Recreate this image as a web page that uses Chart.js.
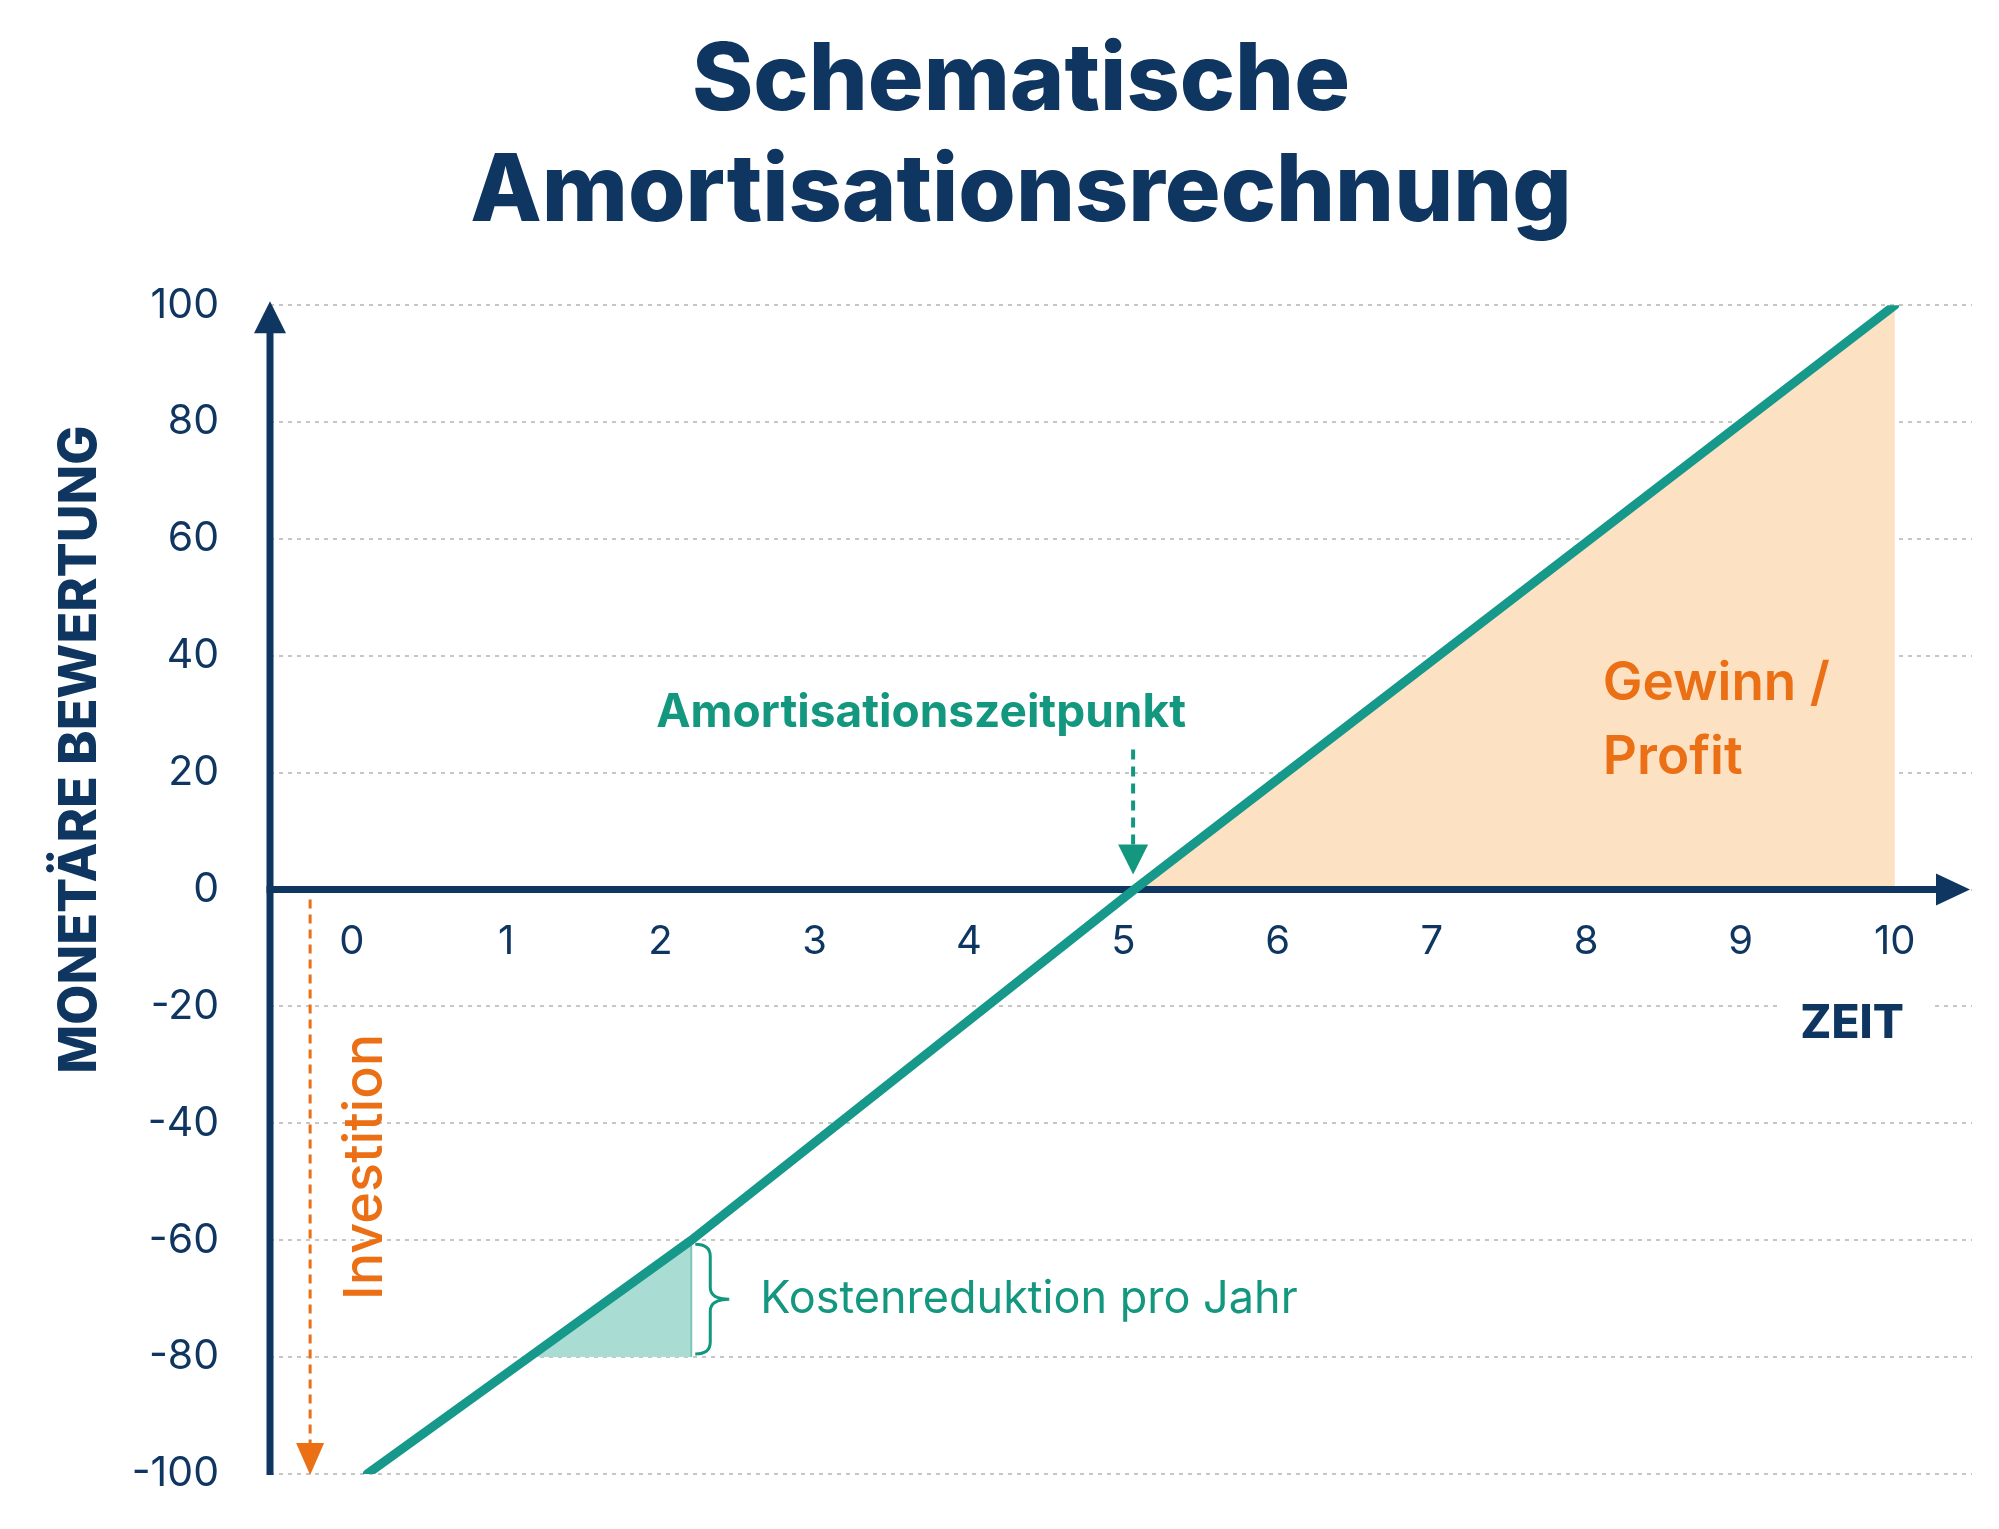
<!DOCTYPE html>
<html><head><meta charset="utf-8">
<script src="https://cdn.jsdelivr.net/npm/chart.js@4.4.1/dist/chart.umd.min.js"></script>
<style>html,body{margin:0;padding:0;background:#fff}#wrap{width:1999px;height:1529px}</style>
</head><body><div id="wrap"><canvas id="c" width="1999" height="1529"></canvas></div>
<script>
// ---- data ----
const titleLines = ['Schematische', 'Amortisationsrechnung'];
const yAxisTitle = 'MONETÄRE BEWERTUNG';
const xAxisTitle = 'ZEIT';
const xTicks = [0, 1, 2, 3, 4, 5, 6, 7, 8, 9, 10];
const yTicks = [-100, -80, -60, -40, -20, 0, 20, 40, 60, 80, 100];
const yTickLabels = ['-100', '-80', '-60', '-40', '-20', '0', '20', '40', '60', '80', '100'];
const years = [0.1, 1.15, 2.2, 5.07, 10];
const cumulative = [-100, -80, -60, 0, 100];
const breakEvenYear = 5.07;
const profitYears = [5.07, 10];
const profitValues = [0, 100];
const stepYears = [1.15, 2.2];
const stepValues = [-80, -60];
const stepEdgeYears = [2.2, 2.2];
const stepEdgeValues = [-80, -60];
const investmentValue = -100;
const txtBreakEven = 'Amortisationszeitpunkt';
const txtProfit = ['Gewinn /', 'Profit'];
const txtInvest = 'Investition';
const txtStep = 'Kostenreduktion pro Jahr';

// ---- styles ----
const NAVY = '#0f3661';
const TEAL = '#16998a';
const TEAL_TXT = '#14977f';
const ORANGE = '#eb6f15';
const PEACH = '#fde1c3';
const MINT = '#a9dcd3';
const FONT = 'Inter, "Open Sans", sans-serif';

const pts = (xs, ys) => xs.map((v, i) => ({x: v, y: ys[i]}));

function dashedArrow(ctx, x, yStart, yTip, color, lw, dash, headW, headH) {
  ctx.save();
  ctx.strokeStyle = color; ctx.fillStyle = color; ctx.lineWidth = lw;
  ctx.setLineDash(dash);
  ctx.beginPath(); ctx.moveTo(x, yStart); ctx.lineTo(x, yTip - headH + 2); ctx.stroke();
  ctx.setLineDash([]);
  ctx.beginPath(); ctx.moveTo(x, yTip); ctx.lineTo(x - headW / 2, yTip - headH); ctx.lineTo(x + headW / 2, yTip - headH); ctx.closePath(); ctx.fill();
  ctx.restore();
}

const annot = {
  id: 'annot',
  beforeDatasetsDraw(chart) {
    const {ctx, chartArea: a, scales: {x, y}} = chart;
    const y0 = y.getPixelForValue(0);
    ctx.save();
    ctx.fillStyle = NAVY; ctx.strokeStyle = NAVY; ctx.lineWidth = 7;
    ctx.beginPath(); ctx.moveTo(a.left, y.getPixelForValue(investmentValue) + 1); ctx.lineTo(a.left, a.top + 20); ctx.stroke();
    ctx.beginPath(); ctx.moveTo(a.left, a.top - 4); ctx.lineTo(a.left - 16, a.top + 28); ctx.lineTo(a.left + 16, a.top + 28); ctx.closePath(); ctx.fill();
    ctx.beginPath(); ctx.moveTo(a.left - 3.5, y0); ctx.lineTo(a.right - 30, y0); ctx.stroke();
    ctx.beginPath(); ctx.moveTo(a.right - 2, y0); ctx.lineTo(a.right - 36, y0 - 16); ctx.lineTo(a.right - 36, y0 + 16); ctx.closePath(); ctx.fill();
    ctx.restore();
  },
  afterDatasetsDraw(chart) {
    const {ctx, chartArea: a, scales: {x, y}} = chart;
    const y0 = y.getPixelForValue(0);
    const yMin = y.getPixelForValue(investmentValue);
    ctx.save();

    // Investition arrow + label
    const ix = x.getPixelForValue(-0.27);
    dashedArrow(ctx, ix, y0 + 10, yMin + 1, ORANGE, 3, [9, 6], 28, 32);
    ctx.save();
    ctx.translate(ix + 72, yMin - 174);
    ctx.rotate(-Math.PI / 2);
    ctx.fillStyle = ORANGE; ctx.font = '500 54px ' + FONT;
    ctx.textAlign = 'left'; ctx.textBaseline = 'alphabetic';
    ctx.fillText(txtInvest, 0, 0);
    ctx.restore();

    // Break-even arrow + label
    const bx = x.getPixelForValue(breakEvenYear) - 1;
    dashedArrow(ctx, bx, y0 - 140, y0 - 15, TEAL_TXT, 4, [10, 7], 30, 30);
    ctx.fillStyle = TEAL_TXT; ctx.font = '700 46px ' + FONT;
    ctx.textAlign = 'center'; ctx.textBaseline = 'alphabetic';
    ctx.fillText(txtBreakEven, bx - 212, y0 - 163);

    // Brace + cost reduction label
    const ex = x.getPixelForValue(stepEdgeYears[0]);
    const top = y.getPixelForValue(stepValues[1]) + 4;
    const bot = y.getPixelForValue(stepValues[0]) - 3;
    const ym = (top + bot) / 2;
    const b0 = ex + 4, b1 = ex + 19, tip = ex + 38, r = 12;
    ctx.strokeStyle = TEAL_TXT; ctx.lineWidth = 3;
    ctx.beginPath();
    ctx.moveTo(b0, top);
    ctx.quadraticCurveTo(b1, top, b1, top + r);
    ctx.lineTo(b1, ym - r);
    ctx.quadraticCurveTo(b1, ym, tip, ym);
    ctx.quadraticCurveTo(b1, ym, b1, ym + r);
    ctx.lineTo(b1, bot - r);
    ctx.quadraticCurveTo(b1, bot, b0, bot);
    ctx.stroke();
    ctx.fillStyle = TEAL_TXT; ctx.font = '400 45px ' + FONT;
    ctx.textAlign = 'left'; ctx.textBaseline = 'middle';
    ctx.fillText(txtStep, ex + 69, ym);

    // Profit label
    const px = x.getPixelForValue(10) - 292;
    ctx.fillStyle = ORANGE; ctx.font = '600 53px ' + FONT;
    ctx.textAlign = 'left'; ctx.textBaseline = 'alphabetic';
    ctx.fillText(txtProfit[0], px, y0 - 190);
    ctx.fillText(txtProfit[1], px, y0 - 116);

    // ZEIT with white background breaking the grid line
    const zx = x.getPixelForValue(10) + 9;
    const gy = y.getPixelForValue(-20);
    ctx.fillStyle = '#ffffff';
    ctx.fillRect(zx - 122, gy - 5, 148, 10);
    ctx.fillStyle = NAVY; ctx.font = '800 46px ' + FONT;
    ctx.textAlign = 'right'; ctx.textBaseline = 'alphabetic';
    ctx.fillText(xAxisTitle, zx, y0 + 148);

    // Y axis title
    ctx.save();
    ctx.translate(a.left - 174, y0 - 140);
    ctx.rotate(-Math.PI / 2);
    ctx.fillStyle = NAVY; ctx.font = '800 52px ' + FONT;
    ctx.textAlign = 'center'; ctx.textBaseline = 'alphabetic';
    ctx.fillText(yAxisTitle, 0, 0);
    ctx.restore();

    ctx.restore();
  }
};

new Chart(document.getElementById('c'), {
  type: 'line',
  data: {
    datasets: [
      {label: 'Kumuliert', data: pts(years, cumulative), borderColor: TEAL, borderWidth: 9, borderCapStyle: 'round', borderJoinStyle: 'round', pointRadius: 0, tension: 0, fill: false},
      {label: 'Stufe Kante', data: pts(stepEdgeYears, stepEdgeValues), borderColor: '#7fc7ba', borderWidth: 2, pointRadius: 0, fill: false},
      {label: 'Kostenreduktion', data: pts(stepYears, stepValues), borderWidth: 0, borderColor: 'rgba(0,0,0,0)', backgroundColor: MINT, pointRadius: 0, fill: {value: -80}},
      {label: 'Gewinn', data: pts(profitYears, profitValues), borderWidth: 0, borderColor: 'rgba(0,0,0,0)', backgroundColor: PEACH, pointRadius: 0, fill: 'origin'}
    ]
  },
  options: {
    responsive: false,
    animation: false,
    devicePixelRatio: 1,
    layout: {padding: {left: 70, right: 27, top: 0, bottom: 55}},
    plugins: {
      legend: {display: false},
      tooltip: {enabled: false},
      filler: {drawTime: 'beforeDatasetsDraw'},
      title: {
        display: true, text: titleLines, color: NAVY,
        font: {family: FONT, size: 93, weight: 800, lineHeight: 1.2},
        padding: {top: 26, bottom: 56}
      }
    },
    scales: {
      x: {
        type: 'linear', position: {y: 0}, min: -0.53, max: 10.5,
        afterFit: s => { s.height = 0; },
        afterBuildTicks: s => { s.ticks = xTicks.map(v => ({value: v})); },
        grid: {display: false, drawTicks: false},
        border: {display: false},
        ticks: {padding: 28, color: NAVY, font: {family: FONT, size: 40, weight: 400}, autoSkip: false, maxRotation: 0, callback: v => String(v)}
      },
      y: {
        type: 'linear', min: -100, max: 100,
        afterFit: s => { s.width = 200; s.paddingTop = 0; s.paddingBottom = 0; },
        afterBuildTicks: s => { s.ticks = yTicks.map(v => ({value: v})); },
        grid: {color: '#c6c6c6', lineWidth: 2, drawTicks: false},
        border: {display: false, dash: [4, 5]},
        ticks: {padding: 51, color: NAVY, font: {family: FONT, size: 41, weight: 400}, autoSkip: false,
          callback: v => yTickLabels[yTicks.indexOf(v)]}
      }
    }
  },
  plugins: [annot]
});
</script></body></html>
